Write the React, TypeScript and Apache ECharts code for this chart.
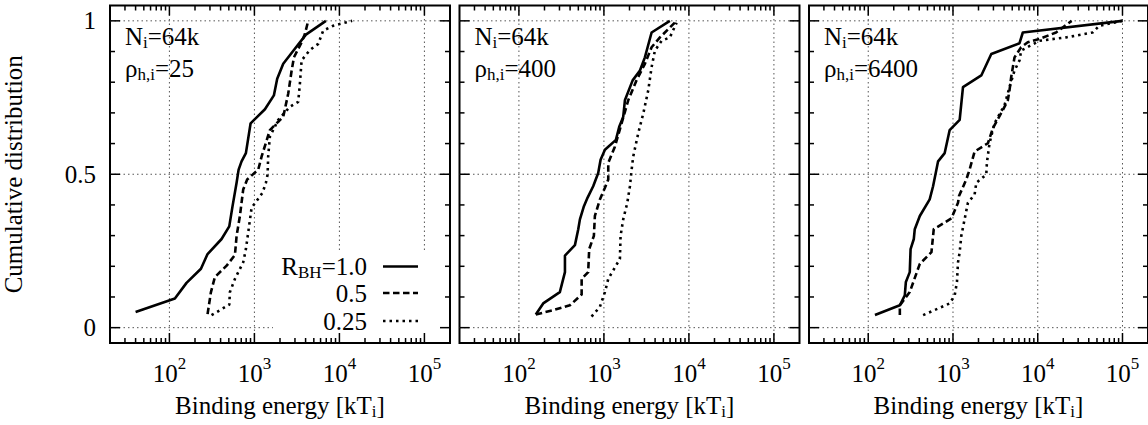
import React, { useEffect, useRef } from 'react';
import * as echarts from 'echarts';

const FONT = 'Liberation Serif';

// axis ranges and tick values
const X_MIN = 20;
const X_MAX = 200000;
const Y_MIN = -0.05;
const Y_MAX = 1.05;
const X_DECADES = [100, 1000, 10000, 100000];
const X_MINOR = [30, 40, 50, 60, 70, 80, 90, 200, 300, 400, 500, 600, 700, 800, 900,
  2000, 3000, 4000, 5000, 6000, 7000, 8000, 9000, 20000, 30000, 40000, 50000, 60000, 70000, 80000, 90000];
const Y_MAJOR = [0, 0.5, 1];
const Y_MINOR = [0.1, 0.2, 0.3, 0.4, 0.6, 0.7, 0.8, 0.9];

// panel labels
const N_LABEL = '64k';
const RHO_LABELS = ['25', '400', '6400'];
const RBH_LABELS = ['1.0', '0.5', '0.25'];

// Panel 1 (rho = 25)
const p1_r10_E = [40, 116, 159, 235, 281, 411, 506, 553, 617, 652, 706, 794, 902, 1330, 1694, 1854, 2183, 2992, 4036, 6934];
const p1_r10_F = [0.051, 0.095, 0.146, 0.192, 0.240, 0.289, 0.330, 0.396, 0.472, 0.515, 0.542, 0.569, 0.666, 0.712, 0.757, 0.811, 0.860, 0.909, 0.955, 1.0];
const p1_r05_E = [281, 308, 343, 471, 590, 617, 675, 738, 822, 1109, 1216, 1521, 1905, 2183, 2500, 2742, 2917, 3589, 3926, 4295];
const p1_r05_F = [0.044, 0.116, 0.165, 0.202, 0.237, 0.299, 0.364, 0.450, 0.483, 0.515, 0.558, 0.644, 0.671, 0.687, 0.763, 0.838, 0.881, 0.930, 0.957, 1.0];
const p1_r025_E = [313, 506, 515, 590, 738, 794, 845, 927, 1062, 1247, 1365, 1429, 1452, 1521, 1905, 2618, 3273, 3428, 3589, 4498, 5636, 6442, 8453, 14125];
const p1_r025_F = [0.041, 0.075, 0.116, 0.159, 0.213, 0.256, 0.310, 0.391, 0.413, 0.440, 0.472, 0.499, 0.558, 0.623, 0.677, 0.720, 0.736, 0.795, 0.871, 0.905, 0.925, 0.968, 0.984, 1.0];

// Panel 2 (rho = 400)
const p2_r10_E = [158, 193, 303, 348, 348, 456, 499, 522, 582, 643, 748, 857, 914, 1028, 1384, 1514, 1687, 1766, 2178, 2655, 3034, 3639, 5970];
const p2_r10_F = [0.043, 0.079, 0.116, 0.181, 0.235, 0.269, 0.321, 0.353, 0.396, 0.424, 0.461, 0.504, 0.547, 0.580, 0.612, 0.655, 0.687, 0.741, 0.806, 0.838, 0.881, 0.962, 1.0];
const p2_r05_E = [158, 254, 398, 547, 547, 653, 671, 762, 783, 897, 1028, 1125, 1125, 1346, 1614, 1932, 2421, 3034, 3639, 4560, 7161];
const p2_r05_F = [0.043, 0.057, 0.073, 0.108, 0.159, 0.181, 0.256, 0.299, 0.364, 0.418, 0.456, 0.483, 0.537, 0.590, 0.666, 0.741, 0.806, 0.860, 0.914, 0.946, 1.0];
const p2_r025_E = [716, 897, 1028, 1125, 1542, 1570, 1687, 1884, 2023, 2118, 2213, 2535, 2904, 3327, 3639, 3981, 4775, 5970, 7161];
const p2_r025_F = [0.036, 0.068, 0.116, 0.159, 0.224, 0.299, 0.353, 0.407, 0.461, 0.515, 0.558, 0.634, 0.698, 0.774, 0.849, 0.903, 0.935, 0.946, 0.994];

// Panel 3 (rho = 6400)
const p3_r10_E = [120, 236, 270, 278, 309, 316, 345, 354, 406, 531, 582, 637, 667, 798, 914, 1199, 1312, 2158, 2831, 6095, 6668, 100000];
const p3_r10_F = [0.041, 0.073, 0.105, 0.149, 0.181, 0.256, 0.289, 0.321, 0.364, 0.418, 0.461, 0.515, 0.542, 0.569, 0.644, 0.677, 0.784, 0.822, 0.892, 0.927, 0.962, 1.0];
const p3_r05_E = [236, 236, 309, 406, 557, 593, 957, 1146, 1178, 1435, 1570, 1799, 2582, 2958, 3873, 4436, 4645, 4864, 5321, 6368, 7621, 10471, 16444, 25119];
const p3_r05_F = [0.041, 0.073, 0.116, 0.208, 0.246, 0.321, 0.356, 0.407, 0.429, 0.483, 0.515, 0.574, 0.601, 0.650, 0.709, 0.741, 0.774, 0.817, 0.881, 0.914, 0.930, 0.941, 0.962, 1.0];
const p3_r025_E = [444, 914, 1047, 1114, 1146, 1199, 1253, 1371, 1500, 1799, 1884, 2472, 2512, 2698, 3090, 4055, 4645, 5321, 6095, 6368, 10471, 21577, 44361, 53211, 100000];
const p3_r025_F = [0.041, 0.079, 0.105, 0.149, 0.213, 0.246, 0.299, 0.353, 0.407, 0.434, 0.472, 0.499, 0.537, 0.601, 0.666, 0.725, 0.784, 0.838, 0.871, 0.903, 0.935, 0.946, 0.962, 0.984, 1.0];

const PANELS = [
  [[p1_r10_E, p1_r10_F], [p1_r05_E, p1_r05_F], [p1_r025_E, p1_r025_F]],
  [[p2_r10_E, p2_r10_F], [p2_r05_E, p2_r05_F], [p2_r025_E, p2_r025_F]],
  [[p3_r10_E, p3_r10_F], [p3_r05_E, p3_r05_F], [p3_r025_E, p3_r025_F]],
];

const GRID_LEFT = [110, 459.5, 809];
const GRID_W = 340;
const GRID_TOP = 5.5;
const GRID_H = 338;

const LINE_TYPES: any[] = ['solid', [6.5, 3.5], [2.5, 4]];

const SUB_STYLE = { fontSize: 17, lineHeight: 13, fontFamily: FONT, padding: [12, 0, 0, 0], fill: '#000', color: '#000' };

function makeDeco(k: number) {
  return (params: any, api: any) => {
    const ch: any[] = [];
    const [xl, yb] = api.coord([X_MIN, Y_MIN]);
    const [xr, yt] = api.coord([X_MAX, Y_MAX]);
    const gridStyle = { stroke: '#555', lineWidth: 1, lineDash: [1.5, 3], fill: null };
    X_DECADES.forEach((d) => {
      const x = api.coord([d, 0.5])[0];
      ch.push({ type: 'line', shape: { x1: x, y1: yt, x2: x, y2: yb }, style: gridStyle });
    });
    Y_MAJOR.forEach((v) => {
      const y = api.coord([1000, v])[1];
      ch.push({ type: 'line', shape: { x1: xl, y1: y, x2: xr, y2: y }, style: gridStyle });
    });
    if (k === 0) {
      ch.push({ type: 'rect', shape: { x: xr - 177, y: yb - 90.5, width: 176, height: 88 }, style: { fill: '#fff', stroke: null } });
    }
    const tickStyle = { stroke: '#000', lineWidth: 1.5, fill: null };
    const addXTick = (v: number, len: number) => {
      const x = api.coord([v, 0.5])[0];
      ch.push({ type: 'line', shape: { x1: x, y1: yb, x2: x, y2: yb - len }, style: tickStyle });
      ch.push({ type: 'line', shape: { x1: x, y1: yt, x2: x, y2: yt + len }, style: tickStyle });
    };
    X_DECADES.forEach((v) => addXTick(v, 10));
    X_MINOR.forEach((v) => addXTick(v, 5));
    const addYTick = (v: number, len: number) => {
      const y = api.coord([1000, v])[1];
      ch.push({ type: 'line', shape: { x1: xl, y1: y, x2: xl + len, y2: y }, style: tickStyle });
      ch.push({ type: 'line', shape: { x1: xr, y1: y, x2: xr - len, y2: y }, style: tickStyle });
    };
    Y_MAJOR.forEach((v) => addYTick(v, 10));
    Y_MINOR.forEach((v) => addYTick(v, 5));

    const txt = (x: number, y: number, text: string, align: string) => ({
      type: 'text',
      style: {
        x, y, text, align, verticalAlign: 'middle',
        fontSize: 25, lineHeight: 25, fontFamily: FONT, fill: '#000',
        rich: { sub: SUB_STYLE },
      },
    });
    ch.push(txt(xl + 15, yt + 31, 'N{sub|i}=' + N_LABEL, 'left'));
    ch.push(txt(xl + 15, yt + 63, 'ρ{sub|h,i}=' + RHO_LABELS[k], 'left'));

    if (k === 0) {
      const rows = [yb - 76.5, yb - 50, yb - 22];
      RBH_LABELS.forEach((lab, i) => {
        ch.push(txt(xr - 83, rows[i], i === 0 ? 'R{sub|BH}=' + lab : lab, 'right'));
        ch.push({
          type: 'line',
          shape: { x1: xr - 67, y1: rows[i], x2: xr - 32, y2: rows[i] },
          style: { stroke: '#000', lineWidth: 2.5, lineDash: LINE_TYPES[i] === 'solid' ? null : LINE_TYPES[i], fill: null },
        });
      });
    }
    return { type: 'group', children: ch };
  };
}

export default function App() {
  const ref = useRef<HTMLDivElement>(null);
  useEffect(() => {
    if (!ref.current) return;
    const chart = echarts.init(ref.current, null, { renderer: 'svg' });
    const grids = GRID_LEFT.map((l) => ({
      left: l, top: GRID_TOP, width: GRID_W, height: GRID_H,
      show: true, borderColor: '#000', borderWidth: 2, backgroundColor: 'transparent',
    }));
    const xAxes = GRID_LEFT.map((_, i) => ({
      type: 'log', logBase: 10, gridIndex: i, min: X_MIN, max: X_MAX,
      axisLine: { show: false }, axisTick: { show: false }, splitLine: { show: false },
      minorTick: { show: false }, minorSplitLine: { show: false },
      axisLabel: {
        showMinLabel: false, showMaxLabel: false, margin: 12,
        formatter: (v: number) => '10{sup|' + Math.round(Math.log10(v)) + '}',
        fontSize: 25, fontFamily: FONT, color: '#000',
        rich: { sup: { fontSize: 17, fontFamily: FONT, color: '#000', padding: [0, 0, 19, 0] } },
      },
      name: 'Binding energy [kT{sub|i}]',
      nameLocation: 'middle', nameGap: 50,
      nameTextStyle: {
        fontSize: 25, lineHeight: 25, fontFamily: FONT, color: '#000',
        rich: { sub: SUB_STYLE },
      },
    }));
    const yAxes = GRID_LEFT.map((_, i) => ({
      type: 'value', gridIndex: i, min: Y_MIN, max: Y_MAX,
      axisLine: { show: false }, axisTick: { show: false }, splitLine: { show: false },
      axisLabel: {
        show: i === 0, customValues: Y_MAJOR, margin: 14,
        fontSize: 25, fontFamily: FONT, color: '#000',
        formatter: (v: number) => String(v),
      },
      name: i === 0 ? 'Cumulative distribution' : '',
      nameLocation: 'middle', nameGap: 84, nameRotate: 90,
      nameTextStyle: { fontSize: 25, fontFamily: FONT, color: '#000' },
    }));
    const series: any[] = [];
    GRID_LEFT.forEach((_, k) => {
      series.push({
        type: 'custom', xAxisIndex: k, yAxisIndex: k, silent: true, z: 1,
        data: [[X_MIN, Y_MIN]], renderItem: makeDeco(k),
      });
    });
    PANELS.forEach((panel, k) => {
      panel.forEach(([E, F], j) => {
        series.push({
          type: 'line', xAxisIndex: k, yAxisIndex: k, z: 3,
          data: E.map((e, n) => [e, F[n]]),
          symbol: 'none', showSymbol: false, silent: true,
          lineStyle: { color: '#000', width: 2.6, type: LINE_TYPES[j], cap: 'butt', join: 'round' },
        });
      });
    });
    chart.setOption({
      animation: false,
      backgroundColor: '#fff',
      grid: grids, xAxis: xAxes, yAxis: yAxes, series,
    });
    return () => chart.dispose();
  }, []);
  return <div ref={ref} style={{ position: 'fixed', left: 0, top: 0, width: 1148, height: 425 }} />;
}
